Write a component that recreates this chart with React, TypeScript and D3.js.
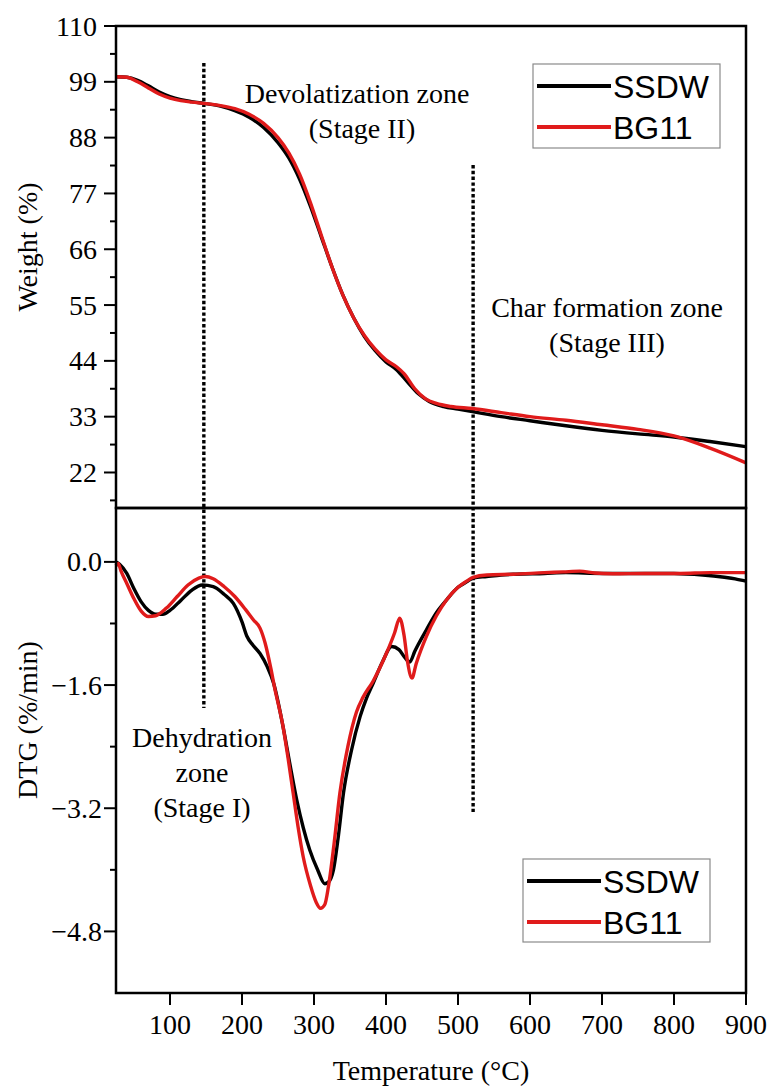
import React from "react";
import * as d3 from "d3";

// ---- Data ----
const tempTicks = [100, 200, 300, 400, 500, 600, 700, 800, 900];
const weightTicks = [22, 33, 44, 55, 66, 77, 88, 99, 110];
const dtgTicks = [0.0, -1.6, -3.2, -4.8];

const wT_SSDW = [25, 40, 55, 70, 85, 100, 115, 130, 150, 170, 190, 210, 230, 250, 265, 280, 295, 310, 325, 340, 355, 370, 385, 400, 415, 430, 445, 460, 480, 500, 520, 560, 600, 650, 700, 750, 800, 850, 900];
const wV_SSDW = [100.0, 99.9, 99.3, 98.2, 97.0, 96.1, 95.5, 95.1, 94.7, 94.2, 93.3, 92.0, 90.0, 87.0, 84.0, 79.8, 74.5, 68.5, 62.5, 57.0, 52.5, 48.8, 46.0, 43.8, 42.2, 39.8, 37.5, 36.0, 35.0, 34.5, 34.0, 33.0, 32.2, 31.2, 30.3, 29.6, 29.0, 28.1, 27.1];

const wT_BG11 = [25, 40, 55, 70, 85, 100, 115, 130, 150, 170, 190, 210, 230, 250, 265, 280, 295, 310, 325, 340, 355, 370, 385, 400, 415, 425, 440, 455, 470, 490, 520, 560, 600, 650, 700, 750, 800, 850, 900];
const wV_BG11 = [100.0, 99.9, 99.0, 97.8, 96.6, 95.8, 95.3, 95.0, 94.7, 94.3, 93.7, 92.6, 90.8, 88.0, 85.0, 80.8, 75.2, 68.8, 62.5, 57.0, 52.5, 49.0, 46.3, 44.2, 42.8, 41.5, 38.5, 36.5, 35.6, 35.0, 34.6, 33.8, 33.0, 32.3, 31.4, 30.5, 29.2, 26.8, 23.9];

const dT_SSDW = [25, 30, 40, 50, 60, 70, 80, 90, 100, 115, 130, 145, 160, 175, 188, 200, 207, 215, 225, 235, 244, 257, 266, 276, 285, 294, 305, 315, 320, 327, 334, 341, 352, 364, 373, 382, 395, 408, 418, 426, 433, 440, 456, 470, 484, 500, 512, 521, 540, 560, 580, 620, 650, 700, 750, 800, 840, 870, 885, 900];
const dV_SSDW = [0.0, -0.03, -0.15, -0.35, -0.52, -0.63, -0.68, -0.68, -0.63, -0.5, -0.37, -0.3, -0.32, -0.42, -0.54, -0.78, -0.97, -1.08, -1.19, -1.36, -1.58, -2.14, -2.6, -3.09, -3.45, -3.74, -4.0, -4.18, -4.16, -4.0, -3.55, -3.0, -2.45, -2.01, -1.77, -1.58, -1.3, -1.1, -1.14, -1.24, -1.3, -1.16, -0.885, -0.66, -0.495, -0.33, -0.26, -0.21, -0.19, -0.17, -0.16, -0.15, -0.14, -0.15, -0.15, -0.15, -0.17, -0.2, -0.22, -0.25];

const dT_BG11 = [25, 28, 32, 40, 50, 60, 70, 80, 95, 110, 125, 140, 149, 160, 175, 190, 205, 216, 225, 232, 240, 245, 257, 264, 271, 278, 285, 295, 303, 309, 315, 320, 328, 336, 347, 359, 368, 382, 400, 412, 419, 425, 430, 436, 442, 456, 470, 484, 500, 512, 521, 540, 577, 620, 646, 669, 690, 715, 760, 808, 850, 878, 900];
const dV_BG11 = [-0.05, -0.02, -0.12, -0.28, -0.48, -0.64, -0.71, -0.7, -0.6, -0.45, -0.3, -0.21, -0.19, -0.22, -0.32, -0.45, -0.62, -0.755, -0.86, -1.05, -1.38, -1.62, -2.14, -2.55, -3.0, -3.45, -3.83, -4.2, -4.42, -4.5, -4.45, -4.22, -3.65, -3.0, -2.4, -1.95, -1.76, -1.55, -1.2, -0.92, -0.73, -0.95, -1.3, -1.51, -1.32, -0.97, -0.7, -0.495, -0.33, -0.25, -0.2, -0.17, -0.16, -0.14, -0.13, -0.12, -0.145, -0.155, -0.15, -0.15, -0.14, -0.14, -0.14];

const seriesNames = ["SSDW", "BG11"];
const seriesColors = ["#000000", "#e01b1b"];

// ---- Layout ----
const W = 771, H = 1089;
const L = 116, R = 746, T1 = 26, MID = 508, B2 = 993;

export default function App() {
  const x = d3.scaleLinear().domain([25, 900]).range([L, R]);
  const yW = d3.scaleLinear().domain([15, 110]).range([MID, T1]);
  const yD = d3.scaleLinear().domain([-5.6, 0.7]).range([B2, MID]);

  const mk = (ts: number[], vs: number[], ys: d3.ScaleLinear<number, number>) =>
    d3.line<number>().x((_, i) => x(ts[i])).y((v) => ys(v)).curve(d3.curveMonotoneX)(vs) || "";

  const wMinorAll = d3.range(16.5, 110, 11);
  const dMinor = [-0.8, -2.4, -4.0];

  const serif = "'Liberation Serif', 'Times New Roman', serif";
  const sans = "'Liberation Sans', Arial, sans-serif";
  const tickFS = 28;
  const annFS = 28;

  const legend = (x0: number, y0: number, w: number, h: number) => (
    <g>
      <rect x={x0} y={y0} width={w} height={h} fill="white" stroke="#8a8a8a" strokeWidth={1.2} />
      {seriesNames.map((n, i) => {
        const ly = y0 + 22 + i * 41;
        return (
          <g key={n}>
            <line x1={x0 + 4} x2={x0 + 78} y1={ly} y2={ly} stroke={seriesColors[i]} strokeWidth={4} />
            <text x={x0 + 80} y={ly + 11.5} fontFamily={sans} fontSize={32} fill="#000">{n}</text>
          </g>
        );
      })}
    </g>
  );

  return (
    <svg width={W} height={H} style={{ position: "absolute", left: 0, top: 0, background: "white" }}>
      <rect x={0} y={0} width={W} height={H} fill="white" />
      {/* dotted zone lines */}
      <line x1={x(147)} x2={x(147)} y1={63} y2={708} stroke="#000" strokeWidth={3.4} strokeDasharray="3.4 2.4" />
      <line x1={x(521)} x2={x(521)} y1={165} y2={812} stroke="#000" strokeWidth={3.4} strokeDasharray="3.4 2.4" />

      {/* curves */}
      <path d={mk(wT_SSDW, wV_SSDW, yW)} fill="none" stroke={seriesColors[0]} strokeWidth={3.4} />
      <path d={mk(wT_BG11, wV_BG11, yW)} fill="none" stroke={seriesColors[1]} strokeWidth={3.4} />
      <path d={mk(dT_SSDW, dV_SSDW, yD)} fill="none" stroke={seriesColors[0]} strokeWidth={3.4} />
      <path d={mk(dT_BG11, dV_BG11, yD)} fill="none" stroke={seriesColors[1]} strokeWidth={3.4} />

      {/* frames */}
      <rect x={L} y={T1} width={R - L} height={MID - T1} fill="none" stroke="#000" strokeWidth={2.5} />
      <rect x={L} y={MID} width={R - L} height={B2 - MID} fill="none" stroke="#000" strokeWidth={2.5} />

      {/* top y axis */}
      {weightTicks.map((t) => (
        <g key={"w" + t}>
          <line x1={L - 12} x2={L} y1={yW(t)} y2={yW(t)} stroke="#000" strokeWidth={2} />
          <text x={L - 19} y={yW(t) + 9.5} textAnchor="end" fontFamily={serif} fontSize={tickFS}>{t}</text>
        </g>
      ))}
      {wMinorAll.map((t) => (
        <line key={"wm" + t} x1={L - 6} x2={L} y1={yW(t)} y2={yW(t)} stroke="#000" strokeWidth={2} />
      ))}

      {/* bottom y axis */}
      {dtgTicks.map((t) => (
        <g key={"d" + t}>
          <line x1={L - 12} x2={L} y1={yD(t)} y2={yD(t)} stroke="#000" strokeWidth={2} />
          <text x={L - 14} y={yD(t) + 9.5} textAnchor="end" fontFamily={serif} fontSize={tickFS}>
            {t === 0 ? "0.0" : "\u2212" + Math.abs(t).toFixed(1)}
          </text>
        </g>
      ))}
      {dMinor.map((t) => (
        <line key={"dm" + t} x1={L - 6} x2={L} y1={yD(t)} y2={yD(t)} stroke="#000" strokeWidth={2} />
      ))}

      {/* x axis */}
      {tempTicks.map((t) => (
        <g key={"x" + t}>
          <line x1={x(t)} x2={x(t)} y1={B2} y2={B2 + 12} stroke="#000" strokeWidth={2} />
          <text x={x(t)} y={B2 + 41} textAnchor="middle" fontFamily={serif} fontSize={tickFS}>{t}</text>
        </g>
      ))}

      {/* axis titles */}
      <text transform={`translate(37, 247) rotate(-90)`} textAnchor="middle" fontFamily={serif} fontSize={28}>Weight (%)</text>
      <text transform={`translate(37, 720) rotate(-90)`} textAnchor="middle" fontFamily={serif} fontSize={28}>DTG (%/min)</text>
      <text x={431} y={1080} textAnchor="middle" fontFamily={serif} fontSize={28}>Temperature (°C)</text>

      {/* annotations */}
      <g fontFamily={serif} fontSize={annFS} textAnchor="middle">
        <text x={357} y={103}>Devolatization zone</text>
        <text x={362} y={138}>(Stage II)</text>
        <text x={607} y={317}>Char formation zone</text>
        <text x={607} y={352}>(Stage III)</text>
        <text x={202} y={747}>Dehydration</text>
        <text x={202} y={782}>zone</text>
        <text x={202} y={817}>(Stage I)</text>
      </g>

      {legend(533, 64, 187, 84)}
      {legend(523, 859, 187, 83)}
    </svg>
  );
}
